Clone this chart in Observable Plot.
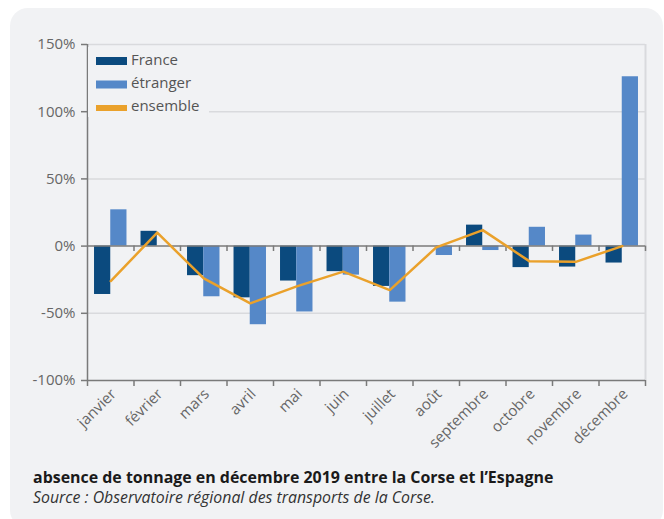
<!DOCTYPE html>
<html>
<head>
<meta charset="utf-8">
<script src="https://cdn.jsdelivr.net/npm/d3@7"></script>
<script src="https://cdn.jsdelivr.net/npm/@observablehq/plot@0.6"></script>
<style>
  html, body { margin: 0; padding: 0; background: #ffffff; width: 664px; height: 519px; overflow: hidden; font-family: "Open Sans", sans-serif; }
  #panel { position: absolute; left: 10px; top: 8px; width: 653px; height: 520px; background: #f1f2f4; border-radius: 18px; }
  #chart { position: absolute; left: 0; top: 0; }
  .cap { position: absolute; left: 33px; color: #1a1a1a; white-space: nowrap; line-height: 20px; }
  #title { top: 466px; font-size: 15px; font-weight: 700; }
  #source { top: 487px; font-size: 15px; font-style: italic; color: #333; }
</style>
</head>
<body>
<div id="panel"></div>
<div id="chart"></div>
<div id="title" class="cap"><span>absence de tonnage en décembre 2019 entre la Corse et l’Espagne</span></div>
<div id="source" class="cap"><span>Source : Observatoire régional des transports de la Corse.</span></div>
<script>
const months = ["janvier","février","mars","avril","mai","juin","juillet","août","septembre","octobre","novembre","décembre"];
const france   = [-36, 11, -22, -38.5, -26, -19, -30, 0, 15.6, -16, -15.6, -12.6];
const etranger = [27, 0, -37.7, -58.5, -49, -21.6, -41.7, -7, -3.3, 14, 8.2, 126];
const ensemble = [-26, 10, -24, -42.6, -30, -19, -32.7, -1, 11.9, -11.2, -11.7, 0];
const yTicks = [-100, -50, 0, 50, 100, 150];
const gridTicks = [-50, 50, 100, 150];
const seriesNames = ["France", "étranger", "ensemble"];
const colors = {France: "#0b4a7e", "étranger": "#5588c8", ensemble: "#eaa12b"};

const idx = months.map((m, i) => i);
const bounds = d3.range(0, months.length + 1);

const plot = Plot.plot({
  width: 664,
  height: 460,
  marginLeft: 87,
  marginRight: 19,
  marginTop: 44,
  marginBottom: 80,
  style: {background: "none", fontFamily: "Open Sans, sans-serif"},
  x: {type: "linear", domain: [0, months.length], axis: null},
  y: {domain: [-100, 150], axis: null},
  marks: [
    Plot.ruleY(gridTicks, {stroke: "#d9dadd", strokeWidth: 1.5}),
    Plot.ruleX([months.length], {stroke: "#d9dadd", strokeWidth: 2}),
    Plot.rectY(idx, {x1: i => i + 0.151, x2: i => i + 0.5, y1: 0, y2: i => france[i], fill: colors.France}),
    Plot.rectY(idx, {x1: i => i + 0.5, x2: i => i + 0.849, y1: 0, y2: i => etranger[i], fill: colors["étranger"]}),
    Plot.ruleY([0], {stroke: "#7a7a7a", strokeWidth: 1.5}),
    Plot.ruleX(bounds.slice(1), {y1: 0, y2: -4, stroke: "#7a7a7a", strokeWidth: 1.5}),
    Plot.line(idx, {x: i => i + 0.5, y: i => ensemble[i], stroke: colors.ensemble, strokeWidth: 2.5}),
    Plot.ruleY([-100], {stroke: "#7a7a7a", strokeWidth: 1.5}),
    Plot.ruleX([0], {stroke: "#7a7a7a", strokeWidth: 1.5}),
    Plot.axisY({ticks: yTicks, tickFormat: d => d + "%", tickSize: 6, tickPadding: 6, fontSize: 15, color: "#666", stroke: "#7a7a7a", strokeWidth: 1.5}),
    Plot.axisX({ticks: bounds, tickFormat: () => "", tickSize: 6, stroke: "#7a7a7a", strokeWidth: 1.5}),
    Plot.axisX({ticks: idx.map(i => i + 0.5), tickFormat: d => months[Math.floor(d)], tickSize: 0, tickPadding: 11, tickRotate: -45, fontSize: 15, color: "#666", dx: 3})
  ]
});
document.getElementById("chart").appendChild(plot);

// fit caption widths to the reference layout
function fit(id, targetWidth, baseline) {
  const el = document.getElementById(id);
  const span = el.querySelector("span");
  el.style.fontSize = "100px";
  const w = span.getBoundingClientRect().width;
  const s = targetWidth / w * 100;
  el.style.fontSize = s + "px";
  el.style.top = (baseline - ((20 - 1.362 * s) / 2 + 1.069 * s)) + "px";
}
fit("title", 521, 482.7);
fit("source", 402, 503);

// legend overlay
const ns = "http://www.w3.org/2000/svg";
const leg = document.createElementNS(ns, "svg");
leg.setAttribute("width", 664);
leg.setAttribute("height", 130);
leg.style.position = "absolute";
leg.style.left = "0px";
leg.style.top = "0px";
const bg = document.createElementNS(ns, "rect");
bg.setAttribute("x", 88); bg.setAttribute("y", 47); bg.setAttribute("width", 121); bg.setAttribute("height", 70);
bg.setAttribute("fill", "#f1f2f4");
leg.appendChild(bg);
seriesNames.forEach((name, k) => {
  const r = document.createElementNS(ns, "rect");
  const h = name === "ensemble" ? 6 : 8;
  r.setAttribute("x", 96); r.setAttribute("y", 57 + k * 23.5 + (8 - h) / 2);
  r.setAttribute("width", 31); r.setAttribute("height", h);
  r.setAttribute("fill", colors[name]);
  leg.appendChild(r);
  const t = document.createElementNS(ns, "text");
  t.setAttribute("x", 131); t.setAttribute("y", 65 + k * 23.2);
  t.setAttribute("font-size", 15); t.setAttribute("font-family", "Open Sans, sans-serif");
  t.setAttribute("fill", "#555");
  t.textContent = name;
  leg.appendChild(t);
});
document.body.appendChild(leg);
</script>
</body>
</html>
